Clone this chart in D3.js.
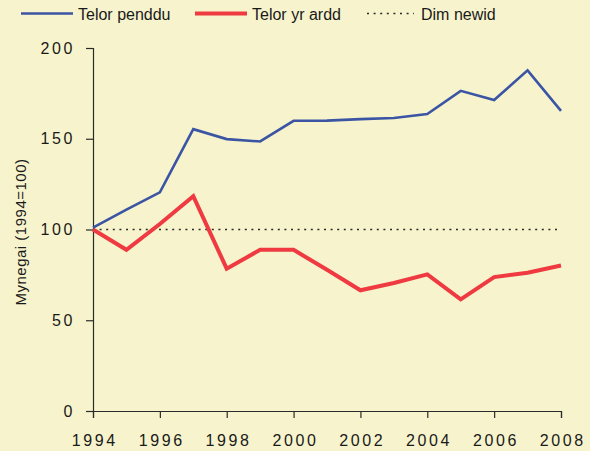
<!DOCTYPE html>
<html>
<head>
<meta charset="utf-8">
<script src="https://cdn.jsdelivr.net/npm/d3@7"></script>
<style>
  body { margin: 0; background: #f7f4cd; }
  svg { display: block; font-family: "Liberation Sans", Arial, sans-serif; }
</style>
</head>
<body>
<div id="chart"></div>
<script>
const years = [1994, 1995, 1996, 1997, 1998, 1999, 2000, 2001, 2002, 2003, 2004, 2005, 2006, 2007, 2008];
const telorPenddu = [101, 111, 120.5, 155.3, 149.8, 148.5, 159.9, 160, 160.8, 161.4, 163.6, 176.4, 171.3, 187.7, 165.4];
const telorYrArdd = [100, 88.8, 103, 118.3, 78.4, 88.8, 88.8, 77.8, 66.5, 70.5, 75.3, 61.5, 73.8, 76.2, 80.2];
const baseline = 100;
const xTicks = [1994, 1996, 1998, 2000, 2002, 2004, 2006, 2008];
const yTicks = [0, 50, 100, 150, 200];
const legendNames = ["Telor penddu", "Telor yr ardd", "Dim newid"];

const width = 590, height = 451;
const margin = {top: 48, right: 29, bottom: 40, left: 93};

const svg = d3.select("#chart").append("svg")
    .attr("width", width)
    .attr("height", height)
    .style("background", "#f7f4cd");

const x = d3.scaleLinear().domain([1994, 2008]).range([margin.left, width - margin.right]);
const y = d3.scaleLinear().domain([0, 200]).range([height - margin.bottom, margin.top]);

// axes
const xAxis = svg.append("g")
    .attr("transform", `translate(0,${y(0)})`)
    .call(d3.axisBottom(x).tickValues(xTicks).tickFormat(d3.format("d")).tickSize(7).tickPadding(14));
const yAxis = svg.append("g")
    .attr("transform", `translate(${x(1994)},0)`)
    .call(d3.axisLeft(y).tickValues(yTicks).tickSize(7).tickPadding(11));

[xAxis, yAxis].forEach(g => {
    g.select(".domain").attr("stroke", "#2a2a2a").attr("stroke-width", 1.2);
    g.selectAll(".tick line").attr("stroke", "#2a2a2a").attr("stroke-width", 1.2);
    g.selectAll(".tick text")
        .attr("fill", "#1a1a1a")
        .style("font-size", "16px")
        .style("letter-spacing", "2.6px")
        .style("font-family", "'Liberation Sans', Arial, sans-serif");
});
xAxis.selectAll(".tick text").attr("dx", "1.3px").attr("y", 24);

svg.append("text")
    .attr("transform", `translate(26,232) rotate(-90)`)
    .attr("text-anchor", "middle")
    .attr("fill", "#1a1a1a")
    .style("font-size", "15px")
    .style("letter-spacing", "0.5px")
    .text("Mynegai (1994=100)");

// baseline dotted
svg.append("line")
    .attr("x1", x(1994)).attr("x2", x(2008))
    .attr("y1", y(baseline)).attr("y2", y(baseline))
    .attr("stroke", "#2a2a2a")
    .attr("stroke-width", 1.5)
    .attr("stroke-dasharray", "2,4.6");

const line = d3.line()
    .x((d, i) => x(years[i]))
    .y(d => y(d));

svg.append("path")
    .datum(telorYrArdd)
    .attr("d", line)
    .attr("fill", "none")
    .attr("stroke", "#ee3a40")
    .attr("stroke-width", 4)
    .attr("stroke-linejoin", "miter");

svg.append("path")
    .datum(telorPenddu)
    .attr("d", line)
    .attr("fill", "none")
    .attr("stroke", "#3b55a4")
    .attr("stroke-width", 2.6)
    .attr("stroke-linejoin", "miter");

// legend
const legend = [
    {name: legendNames[0], x1: 21, x2: 73, tx: 78, color: "#3b55a4", w: 2.6, dash: null},
    {name: legendNames[1], x1: 195, x2: 247, tx: 252, color: "#ee3a40", w: 4, dash: null},
    {name: legendNames[2], x1: 367, x2: 414, tx: 421, color: "#2a2a2a", w: 1.5, dash: "2,4.6"}
];
const lg = svg.append("g").selectAll("g").data(legend).enter().append("g");
lg.append("line")
    .attr("x1", d => d.x1).attr("x2", d => d.x2)
    .attr("y1", 13.5).attr("y2", 13.5)
    .attr("stroke", d => d.color)
    .attr("stroke-width", d => d.w)
    .attr("stroke-dasharray", d => d.dash);
lg.append("text")
    .attr("x", d => d.tx)
    .attr("y", 20)
    .attr("fill", "#1a1a1a")
    .style("font-size", "16px")
    .text(d => d.name);
</script>
</body>
</html>
